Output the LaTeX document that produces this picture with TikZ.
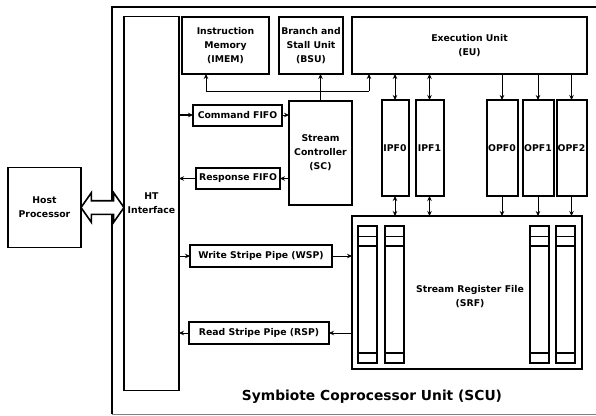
\documentclass[tikz,border=0pt]{standalone}
\usepackage{fontspec}
\setmainfont{DejaVu Sans}
\usetikzlibrary{positioning, arrows.meta, shapes.arrows, calc}

\begin{document}
\begin{tikzpicture}[
			x=1pt, y=-1pt,
			font=\fontsize{9.3}{14}\selectfont\bfseries,
			box/.style={draw, line width=1.6pt, align=center, inner sep=0pt, outer sep=0pt},
			fifo/.style={box, line width=2pt, minimum height=21pt},
			buf/.style={box, line width=2pt, minimum width=28pt, minimum height=96pt},
			col/.style={draw, line width=1.6pt},
			arr/.style={-{Stealth[length=5pt,width=4.5pt]}, line width=0.9pt},
			darr/.style={{Stealth[length=5pt,width=4.5pt]}-{Stealth[length=5pt,width=4.5pt]}, line width=0.9pt},
			link/.style={double arrow, draw, fill=white, line width=1.6pt, minimum height=43pt, double arrow head extend=8pt, double arrow tip angle=110, inner sep=6pt}
		]
		\clip (0,0) rectangle (596,415);

		% Marco del SCU
		\draw[line width=2.4pt] (600,7) -- (112,7) -- (112,414);
		\draw[line width=1pt, gray] (112,414) -- (600,414);

		% Host e interfaz HT
		\node[box, minimum width=73pt, minimum height=80pt] (host) at (44.5,207.5) {Host\\Processor};
		\node[box, line width=1.4pt, minimum width=55pt, minimum height=374pt] (ht) at (151.5,203.5) {HT\\Interface};
		\node[link] (hostlink) at ($(host.east)!.5!(host.east -| ht.west)$) {};

		% Fila superior
		\node[box, line width=2.2pt, minimum width=87pt, minimum height=57pt] (imem) at (225.5,45.5) {Instruction\\Memory\\(IMEM)};
		\node[box, line width=1.4pt, minimum width=64pt, minimum height=57pt, right=10pt of imem] (bsu) {Branch and\\Stall Unit\\(BSU)};
		\node[box, line width=1.4pt, minimum width=235pt, minimum height=57pt, right=9pt of bsu] (eu) {Execution Unit\\(EU)};

		% FIFOs y controlador
		\node[fifo, minimum width=89pt] (cmd) at (237.5,115) {Command FIFO};
		\node[fifo, minimum width=84pt] (resp) at (238,178.5) {Response FIFO};
		\node[box, line width=2pt, minimum width=63pt, minimum height=104pt] (sc) at (320.5,153) {Stream\\Controller\\(SC)};

		% Stripe pipes
		\node[fifo, line width=1.6pt, minimum width=142pt, minimum height=22pt] (wsp) at (261,256) {Write Stripe Pipe (WSP)};
		\node[fifo, line width=1.6pt, minimum width=140pt, minimum height=22pt] (rsp) at (259,333) {Read Stripe Pipe (RSP)};

		% Buffers de entrada y salida
		\node[buf, minimum width=27pt] (ipf0) at (395,148) {IPF0};
		\node[buf, right=7pt of ipf0] (ipf1) {IPF1};
		\node[buf, minimum width=31pt] (opf0) at (502,148) {OPF0};
		\node[buf, minimum width=31pt, right=5pt of opf0] (opf1) {OPF1};
		\node[buf, minimum width=30pt, right=3pt of opf1] (opf2) {OPF2};

		% Stream Register File
		\node[box, minimum width=230pt, minimum height=153pt] (srf) at (467,292.5) {};
		\node[align=center] (srftxt) at ($(srf.center)+(3,4.5)$) {Stream Register File\\(SRF)};
		\foreach \cx in {358,385,530,556} {
				\draw[col] (\cx,226) rectangle ++(19,137);
				\draw[line width=0.8pt] (\cx,236) -- ++(19,0);
				\draw[col] (\cx,246) -- ++(19,0);
				\draw[col] (\cx,353) -- ++(19,0);
			}

		% Flechas de la interfaz HT
		\draw[arr, line width=1.6pt] (cmd.west -| ht.east) -- (cmd.west);
		\draw[arr] (cmd.east) -- (cmd.east -| sc.west);
		\draw[arr] (resp.east -| sc.west) -- (resp.east);
		\draw[arr] (resp.west) -- (resp.west -| ht.east);
		\draw[arr] (wsp.west -| ht.east) -- (wsp.west);
		\draw[arr] (wsp.east) -- (wsp.east -| srf.west);
		\draw[arr] (rsp.east -| srf.west) -- (rsp.east);
		\draw[arr] (rsp.west) -- (rsp.west -| ht.east);

		% Bus del controlador
		\coordinate (busl) at (206,91);
		\coordinate (busr) at (369,91);
		\draw[arr] (sc.north) -- (sc.north |- bsu.south);
		\draw[line width=0.9pt] (busl) -- (busr);
		\draw[arr] (busl) -- (busl |- imem.south);
		\draw[arr] (busr) -- (busr |- eu.south);

		% Flechas de los buffers
		\foreach \b in {ipf0,ipf1} {
				\draw[darr] (\b.north |- eu.south) -- (\b.north);
				\draw[darr] (\b.south) -- (\b.south |- srf.north);
			}
		\foreach \b in {opf0,opf1,opf2} {
				\draw[arr] (\b.north |- eu.south) -- (\b.north);
				\draw[arr] (\b.south) -- (\b.south |- srf.north);
			}

		% Titulo
		\node[font=\fontsize{13.8}{16}\selectfont\bfseries] (title) at (372,397) {Symbiote Coprocessor Unit (SCU)};

	\end{tikzpicture}
\end{document}
